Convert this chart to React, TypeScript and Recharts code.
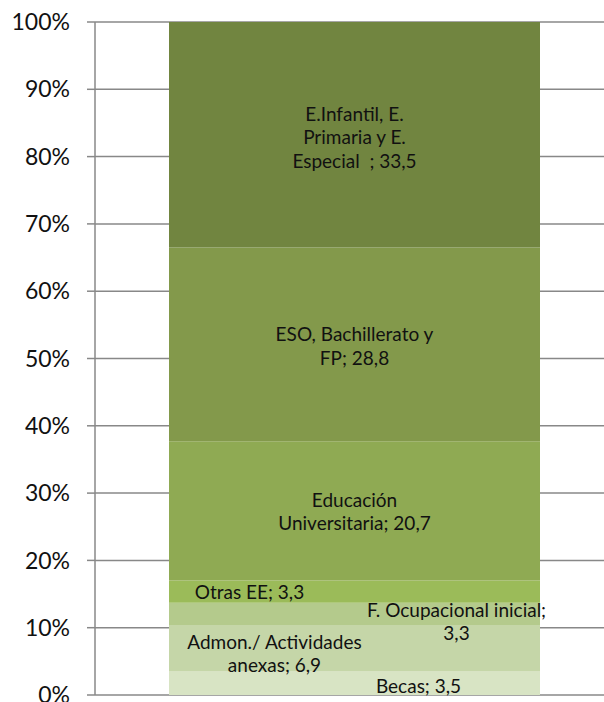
import React from 'react';
import { BarChart, Bar, XAxis, YAxis, CartesianGrid, LabelList } from 'recharts';

const categories = ['Gasto'];
const seriesKeys = ['becas', 'admon', 'focup', 'otras', 'univ', 'eso', 'infantil'];
const seriesValues = [3.5, 6.9, 3.3, 3.3, 20.7, 28.8, 33.5];
const seriesLabels = [
  ['Becas; 3,5'],
  ['Admon./ Actividades', 'anexas; 6,9'],
  ['F. Ocupacional inicial;', '3,3'],
  ['Otras EE; 3,3'],
  ['Educación', 'Universitaria; 20,7'],
  ['ESO, Bachillerato y', 'FP; 28,8'],
  ['E.Infantil, E.', 'Primaria y E.', 'Especial  ; 33,5'],
];
const yTicks = [0, 10, 20, 30, 40, 50, 60, 70, 80, 90, 100];

const colors = ['#d8e4c4', '#c5d6a8', '#b4ca8c', '#9bbb59', '#8faa53', '#83994b', '#718540'];
// label offsets from the segment centre (px), as Excel placed them
const labelDx = [64, -80, 102, -105, 0, 0, 0];
const labelDy = [2, 5, 7, 0, 0, 1, 2];

const row: Record<string, any> = { name: categories[0] };
seriesKeys.forEach((k, i) => {
  row[k] = seriesValues[i];
});
const data = [row];

const font = 'Lato, "Open Sans", sans-serif';
const lineH = 23.5;

function makeLabel(i: number) {
  return (props: any) => {
    const { x, y, width, height } = props;
    const lines = seriesLabels[i];
    const cx = Number(x) + Number(width) / 2 + labelDx[i];
    const cy = Number(y) + Number(height) / 2 + labelDy[i];
    const top = cy - ((lines.length - 1) * lineH) / 2;
    return (
      <g>
        {lines.map((l, j) => (
          <text
            key={j}
            x={cx}
            y={top + j * lineH}
            textAnchor="middle"
            dominantBaseline="central"
            fontFamily={font}
            fontSize={19}
            fill="#111"
            style={{ whiteSpace: 'pre' }}
          >
            {l}
          </text>
        ))}
      </g>
    );
  };
}

export default function App() {
  return (
    <div style={{ position: 'absolute', left: 0, top: 0, background: '#fff' }}>
      <BarChart
        width={604}
        height={702}
        data={data}
        margin={{ top: 22, right: 0, left: 0, bottom: 7 }}
      >
        <CartesianGrid vertical={false} stroke="#888" strokeWidth={1.5} />
        <XAxis dataKey="name" hide padding={{ left: 10, right: 0 }} />
        <YAxis
          width={95}
          domain={[0, 100]}
          ticks={yTicks}
          tickFormatter={(v: number) => `${v}%`}
          tickSize={8}
          tickMargin={17}
          interval={0}
          stroke="#888"
          strokeWidth={1.5}
          tick={{ fill: '#111', fontSize: 23, fontFamily: font }}
        />
        {seriesKeys.map((k, i) => (
          <Bar key={k} dataKey={k} stackId="a" fill={colors[i]} barSize={371} isAnimationActive={false}>
            <LabelList dataKey={k} content={makeLabel(i)} />
          </Bar>
        ))}
      </BarChart>
    </div>
  );
}
